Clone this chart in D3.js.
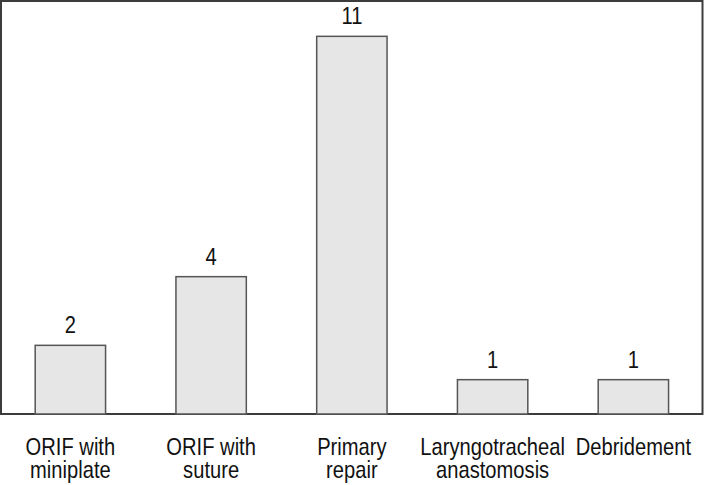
<!DOCTYPE html>
<html>
<head>
<meta charset="utf-8">
<script src="https://cdn.jsdelivr.net/npm/d3@7"></script>
<style>
  body { margin: 0; background: #fff; }
  text { font-family: "Liberation Sans", Arial, sans-serif; fill: #111; }
</style>
</head>
<body>
<div id="chart"></div>
<script>
// chart data
const categories = ["ORIF with miniplate", "ORIF with suture", "Primary repair", "Laryngotracheal anastomosis", "Debridement"];
const labelLines = [["ORIF with", "miniplate"], ["ORIF with", "suture"], ["Primary", "repair"], ["Laryngotracheal", "anastomosis"], ["Debridement"]];
const counts = [2, 4, 11, 1, 1];

const width = 704, height = 485;
const baseY = 414;
const squeeze = 0.84; // condensed look

const svg = d3.select("#chart")
  .append("svg")
  .attr("width", width)
  .attr("height", height);

let x = d3.scaleBand()
  .domain(categories)
  .range([0, 703.75])
  .paddingInner(0.5)
  .paddingOuter(0.25);

let y = d3.scaleLinear().domain([0, 12]).range([baseY, 2]);

// frame
svg.append("rect")
  .attr("x", 1)
  .attr("y", 1)
  .attr("width", 701.5)
  .attr("height", baseY - 1)
  .style("fill", "none")
  .style("stroke", "#3c3c3c")
  .style("stroke-width", 2);

svg.selectAll("rect.bar")
  .data(counts)
  .enter().append("rect")
  .attr("class", "bar")
  .attr("x", (d, i) => x(categories[i]))
  .attr("y", d => y(d))
  .attr("width", x.bandwidth())
  .attr("height", d => baseY - y(d))
  .style("fill", "#e6e6e6")
  .style("stroke", "#555")
  .style("stroke-width", 1.5);

svg.selectAll("text.value")
  .data(counts)
  .enter().append("text")
  .attr("class", "value")
  .attr("transform", (d, i) => "translate(" + (x(categories[i]) + x.bandwidth() / 2) + "," + (y(d) - 12) + ") scale(" + squeeze + ",1)")
  .attr("text-anchor", "middle")
  .style("font-size", "24px")
  .text(d => d);

let labels = svg.selectAll("text.cat")
  .data(labelLines)
  .enter().append("text")
  .attr("class", "cat")
  .attr("transform", (d, i) => "translate(" + (x(categories[i]) + x.bandwidth() / 2) + ",455) scale(" + squeeze + ",1)")
  .attr("text-anchor", "middle")
  .style("font-size", "24px");

labels.selectAll("tspan")
  .data(d => d)
  .enter().append("tspan")
  .attr("x", 0)
  .attr("y", (d, j) => j * 23)
  .text(d => d);
</script>
</body>
</html>
